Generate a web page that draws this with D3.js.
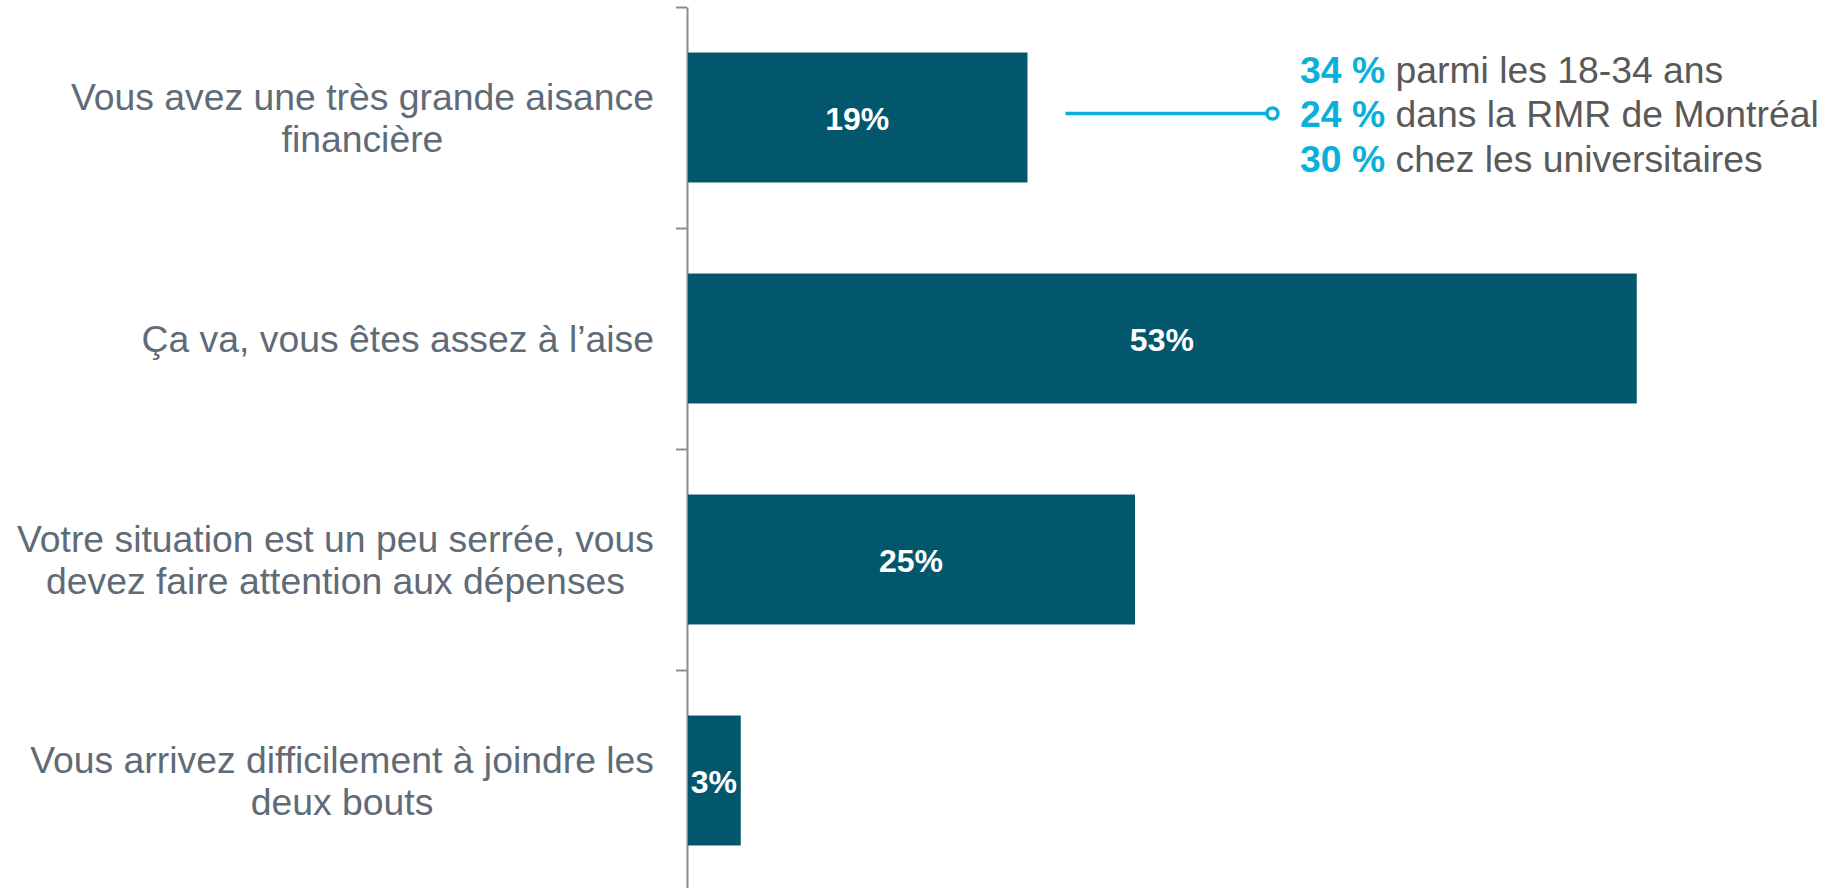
<!DOCTYPE html>
<html>
<head>
<meta charset="utf-8">
<script src="https://cdn.jsdelivr.net/npm/d3@7"></script>
<style>
  body { margin: 0; background: #fff; }
  text { font-family: "Liberation Sans", Arial, sans-serif; }
</style>
</head>
<body>
<div class="chart"></div>
<script>
var categories = [
  ["Vous avez une très grande aisance", "financière"],
  ["Ça va, vous êtes assez à l’aise"],
  ["Votre situation est un peu serrée, vous", "devez faire attention aux dépenses"],
  ["Vous arrivez difficilement à joindre les", "deux bouts"]
];
var values = [19, 53, 25, 3];

var calloutPct = ["34 %", "24 %", "30 %"];
var calloutText = ["parmi les 18-34 ans", "dans la RMR de Montréal", "chez les universitaires"];

var svgWidth = 1825;
var svgHeight = 888;

var axisX = 687;
var plotTop = 7;
var plotBottom = 891;

var svg = d3.select(".chart")
  .append("svg")
  .attr("width", svgWidth)
  .attr("height", svgHeight);

// scales
var xScale = d3.scaleLinear()
  .domain([0, 100])
  .range([axisX, axisX + 1792]);

var yScale = d3.scaleBand()
  .domain(d3.range(categories.length))
  .range([plotTop, plotBottom])
  .paddingInner(0.412)
  .paddingOuter(0.206);

// ticks between the categories
var tickScale = d3.scaleLinear()
  .domain([0, categories.length])
  .range([plotTop, plotBottom]);

var leftAxis = d3.axisLeft(tickScale)
  .tickValues(d3.range(categories.length + 1))
  .tickSize(11)
  .tickSizeOuter(0)
  .tickFormat("");

var axisG = svg.append("g")
  .attr("transform", `translate(${axisX}, 0)`)
  .call(leftAxis);
axisG.selectAll("path, line")
  .attr("stroke", "#8c8c8c")
  .attr("stroke-width", 2);

// bars
svg.selectAll("rect.bar")
  .data(values)
  .enter()
  .append("rect")
  .attr("class", "bar")
  .attr("x", xScale(0) + 1)
  .attr("y", (d, i) => yScale(i))
  .attr("width", d => xScale(d) - xScale(0) - 1)
  .attr("height", yScale.bandwidth())
  .attr("fill", "#02576d");

// value labels
svg.selectAll("text.val")
  .data(values)
  .enter()
  .append("text")
  .attr("class", "val")
  .attr("x", d => (xScale(0) + xScale(d)) / 2)
  .attr("y", (d, i) => yScale(i) + yScale.bandwidth() / 2)
  .attr("dy", "0.38em")
  .attr("text-anchor", "middle")
  .attr("fill", "#ffffff")
  .style("font-size", "32px")
  .style("font-weight", "bold")
  .text(d => d + "%");

// category labels: centred lines, block right-aligned against the axis
var lineH = 42;
categories.forEach(function(lines, i) {
  var cy = yScale(i) + yScale.bandwidth() / 2;
  var t = svg.append("text")
    .attr("text-anchor", "middle")
    .attr("fill", "#5f6b77")
    .style("font-size", "37.33px");
  lines.forEach(function(l, j) {
    t.append("tspan")
      .attr("x", 0)
      .attr("y", cy + (j - (lines.length - 1) / 2) * lineH)
      .attr("dy", "0.35em")
      .text(l);
  });
  var bb = t.node().getBBox();
  t.attr("transform", `translate(${654 - (bb.x + bb.width)}, 0)`);
});

// callout
var cY = yScale(0) + yScale.bandwidth() / 2 - 4;
var cX0 = xScale(values[0]) + 38;
var cX1 = cX0 + 207;
svg.append("line")
  .attr("x1", cX0)
  .attr("x2", cX1)
  .attr("y1", cY)
  .attr("y2", cY)
  .attr("stroke", "#0ab0da")
  .attr("stroke-width", 3.5);
svg.append("circle")
  .attr("cx", cX1)
  .attr("cy", cY)
  .attr("r", 5.5)
  .attr("fill", "#fff")
  .attr("stroke", "#0ab0da")
  .attr("stroke-width", 3.5);

var callout = svg.append("text")
  .style("font-size", "37.33px");
calloutPct.forEach(function(p, i) {
  var ts = callout.append("tspan")
    .attr("x", 1300)
    .attr("y", cY - 31 + (i * 44.5));
  ts.append("tspan")
    .attr("fill", "#0ab0da")
    .style("font-weight", "bold")
    .text(p);
  ts.append("tspan")
    .attr("fill", "#595959")
    .text(" " + calloutText[i]);
});
</script>
</body>
</html>
